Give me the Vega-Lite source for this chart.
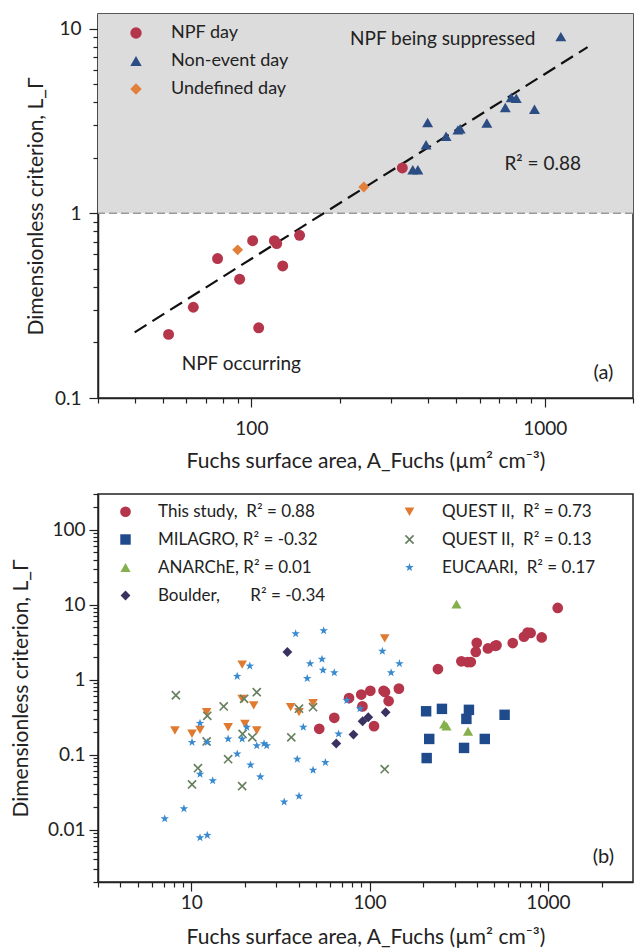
{
  "$schema": "https://vega.github.io/schema/vega-lite/v6.json",
  "padding": {"left": 9, "top": 13, "right": 0, "bottom": 0},
  "bounds": "flush",
  "spacing": 96,
  "resolve": {"scale": {"color": "independent", "shape": "independent", "size": "independent"}, "legend": {"color": "independent", "shape": "independent", "size": "independent"}},
  "config": {
    "font": "Lato",
    "view": {"stroke": "#222", "strokeWidth": 1.5},
    "axis": {"labelFont": "Lato", "labelFontSize": 19, "labelColor": "#222", "titleFont": "Lato", "titleFontSize": 21, "titleFontWeight": "normal", "titleColor": "#222", "domainColor": "#222", "domainWidth": 1.5, "tickColor": "#222", "tickWidth": 1.2, "grid": false},
    "legend": {"labelFont": "Lato", "labelColor": "#222"}
  },
  "datasets": {
    "top": [
      {"A": 52.2, "L": 0.221, "type": "NPF day"},
      {"A": 63.4, "L": 0.31, "type": "NPF day"},
      {"A": 76.7, "L": 0.569, "type": "NPF day"},
      {"A": 91.2, "L": 0.44, "type": "NPF day"},
      {"A": 101, "L": 0.711, "type": "NPF day"},
      {"A": 105.9, "L": 0.24, "type": "NPF day"},
      {"A": 119.8, "L": 0.711, "type": "NPF day"},
      {"A": 122, "L": 0.686, "type": "NPF day"},
      {"A": 127.9, "L": 0.519, "type": "NPF day"},
      {"A": 146, "L": 0.76, "type": "NPF day"},
      {"A": 327, "L": 1.76, "type": "NPF day"},
      {"A": 89.8, "L": 0.634, "type": "Undefined day"},
      {"A": 241.7, "L": 1.387, "type": "Undefined day"},
      {"A": 355, "L": 1.72, "type": "Non-event day"},
      {"A": 369.5, "L": 1.72, "type": "Non-event day"},
      {"A": 394, "L": 2.35, "type": "Non-event day"},
      {"A": 399, "L": 3.1, "type": "Non-event day"},
      {"A": 461, "L": 2.61, "type": "Non-event day"},
      {"A": 506, "L": 2.83, "type": "Non-event day"},
      {"A": 515, "L": 2.87, "type": "Non-event day"},
      {"A": 635, "L": 3.08, "type": "Non-event day"},
      {"A": 734, "L": 3.74, "type": "Non-event day"},
      {"A": 769, "L": 4.24, "type": "Non-event day"},
      {"A": 800, "L": 4.2, "type": "Non-event day"},
      {"A": 923, "L": 3.66, "type": "Non-event day"},
      {"A": 1135, "L": 9.05, "type": "Non-event day"}
    ],
    "fit": [
      {"A": 40, "L": 0.2268},
      {"A": 1400, "L": 7.94}
    ],
    "bottom": [
      {"A": 52.2, "L": 0.221, "s": "This study,\u00a0 R² = 0.88"},
      {"A": 63.4, "L": 0.31, "s": "This study,\u00a0 R² = 0.88"},
      {"A": 76.7, "L": 0.569, "s": "This study,\u00a0 R² = 0.88"},
      {"A": 91.2, "L": 0.44, "s": "This study,\u00a0 R² = 0.88"},
      {"A": 101, "L": 0.711, "s": "This study,\u00a0 R² = 0.88"},
      {"A": 105.9, "L": 0.24, "s": "This study,\u00a0 R² = 0.88"},
      {"A": 119.8, "L": 0.711, "s": "This study,\u00a0 R² = 0.88"},
      {"A": 122, "L": 0.686, "s": "This study,\u00a0 R² = 0.88"},
      {"A": 127.9, "L": 0.519, "s": "This study,\u00a0 R² = 0.88"},
      {"A": 146, "L": 0.76, "s": "This study,\u00a0 R² = 0.88"},
      {"A": 327, "L": 1.76, "s": "This study,\u00a0 R² = 0.88"},
      {"A": 89.8, "L": 0.634, "s": "This study,\u00a0 R² = 0.88"},
      {"A": 241.7, "L": 1.387, "s": "This study,\u00a0 R² = 0.88"},
      {"A": 355, "L": 1.72, "s": "This study,\u00a0 R² = 0.88"},
      {"A": 369.5, "L": 1.72, "s": "This study,\u00a0 R² = 0.88"},
      {"A": 394, "L": 2.35, "s": "This study,\u00a0 R² = 0.88"},
      {"A": 399, "L": 3.1, "s": "This study,\u00a0 R² = 0.88"},
      {"A": 461, "L": 2.61, "s": "This study,\u00a0 R² = 0.88"},
      {"A": 506, "L": 2.83, "s": "This study,\u00a0 R² = 0.88"},
      {"A": 515, "L": 2.87, "s": "This study,\u00a0 R² = 0.88"},
      {"A": 635, "L": 3.08, "s": "This study,\u00a0 R² = 0.88"},
      {"A": 734, "L": 3.74, "s": "This study,\u00a0 R² = 0.88"},
      {"A": 769, "L": 4.24, "s": "This study,\u00a0 R² = 0.88"},
      {"A": 800, "L": 4.2, "s": "This study,\u00a0 R² = 0.88"},
      {"A": 923, "L": 3.66, "s": "This study,\u00a0 R² = 0.88"},
      {"A": 1135, "L": 9.05, "s": "This study,\u00a0 R² = 0.88"},
      {"A": 207.5, "L": 0.379, "s": "MILAGRO, R² = -0.32"},
      {"A": 254.5, "L": 0.408, "s": "MILAGRO, R² = -0.32"},
      {"A": 360.6, "L": 0.396, "s": "MILAGRO, R² = -0.32"},
      {"A": 349, "L": 0.3, "s": "MILAGRO, R² = -0.32"},
      {"A": 571.6, "L": 0.34, "s": "MILAGRO, R² = -0.32"},
      {"A": 216, "L": 0.162, "s": "MILAGRO, R² = -0.32"},
      {"A": 442.6, "L": 0.162, "s": "MILAGRO, R² = -0.32"},
      {"A": 338.6, "L": 0.123, "s": "MILAGRO, R² = -0.32"},
      {"A": 209, "L": 0.09, "s": "MILAGRO, R² = -0.32"},
      {"A": 262, "L": 0.255, "s": "ANARChE, R² = 0.01"},
      {"A": 270, "L": 0.24, "s": "ANARChE, R² = 0.01"},
      {"A": 356.6, "L": 0.205, "s": "ANARChE, R² = 0.01"},
      {"A": 307, "L": 10.2, "s": "ANARChE, R² = 0.01"},
      {"A": 34.6, "L": 2.34, "s": "Boulder,\u00a0\u00a0\u00a0\u00a0\u00a0\u00a0 R² = -0.34"},
      {"A": 65, "L": 0.141, "s": "Boulder,\u00a0\u00a0\u00a0\u00a0\u00a0\u00a0 R² = -0.34"},
      {"A": 81.2, "L": 0.185, "s": "Boulder,\u00a0\u00a0\u00a0\u00a0\u00a0\u00a0 R² = -0.34"},
      {"A": 91.4, "L": 0.279, "s": "Boulder,\u00a0\u00a0\u00a0\u00a0\u00a0\u00a0 R² = -0.34"},
      {"A": 98.3, "L": 0.315, "s": "Boulder,\u00a0\u00a0\u00a0\u00a0\u00a0\u00a0 R² = -0.34"},
      {"A": 123, "L": 0.368, "s": "Boulder,\u00a0\u00a0\u00a0\u00a0\u00a0\u00a0 R² = -0.34"},
      {"A": 8.1, "L": 0.21, "s": "QUEST II,\u00a0 R² = 0.73"},
      {"A": 10.1, "L": 0.19, "s": "QUEST II,\u00a0 R² = 0.73"},
      {"A": 11.2, "L": 0.214, "s": "QUEST II,\u00a0 R² = 0.73"},
      {"A": 12.2, "L": 0.37, "s": "QUEST II,\u00a0 R² = 0.73"},
      {"A": 16.1, "L": 0.232, "s": "QUEST II,\u00a0 R² = 0.73"},
      {"A": 19.3, "L": 0.556, "s": "QUEST II,\u00a0 R² = 0.73"},
      {"A": 19.3, "L": 1.59, "s": "QUEST II,\u00a0 R² = 0.73"},
      {"A": 20, "L": 0.257, "s": "QUEST II,\u00a0 R² = 0.73"},
      {"A": 22.4, "L": 0.453, "s": "QUEST II,\u00a0 R² = 0.73"},
      {"A": 23.3, "L": 0.21, "s": "QUEST II,\u00a0 R² = 0.73"},
      {"A": 36.1, "L": 0.43, "s": "QUEST II,\u00a0 R² = 0.73"},
      {"A": 40.2, "L": 0.37, "s": "QUEST II,\u00a0 R² = 0.73"},
      {"A": 48.2, "L": 0.486, "s": "QUEST II,\u00a0 R² = 0.73"},
      {"A": 121.6, "L": 3.55, "s": "QUEST II,\u00a0 R² = 0.73"},
      {"A": 8.2, "L": 0.62, "s": "QUEST II,\u00a0 R² = 0.13"},
      {"A": 10.9, "L": 0.066, "s": "QUEST II,\u00a0 R² = 0.13"},
      {"A": 10.1, "L": 0.04, "s": "QUEST II,\u00a0 R² = 0.13"},
      {"A": 12.2, "L": 0.15, "s": "QUEST II,\u00a0 R² = 0.13"},
      {"A": 12.3, "L": 0.33, "s": "QUEST II,\u00a0 R² = 0.13"},
      {"A": 15.2, "L": 0.44, "s": "QUEST II,\u00a0 R² = 0.13"},
      {"A": 16.1, "L": 0.087, "s": "QUEST II,\u00a0 R² = 0.13"},
      {"A": 19.3, "L": 0.038, "s": "QUEST II,\u00a0 R² = 0.13"},
      {"A": 19.4, "L": 0.189, "s": "QUEST II,\u00a0 R² = 0.13"},
      {"A": 19.8, "L": 0.556, "s": "QUEST II,\u00a0 R² = 0.13"},
      {"A": 23.3, "L": 0.68, "s": "QUEST II,\u00a0 R² = 0.13"},
      {"A": 22, "L": 0.17, "s": "QUEST II,\u00a0 R² = 0.13"},
      {"A": 36.4, "L": 0.17, "s": "QUEST II,\u00a0 R² = 0.13"},
      {"A": 40.2, "L": 0.41, "s": "QUEST II,\u00a0 R² = 0.13"},
      {"A": 48.2, "L": 0.43, "s": "QUEST II,\u00a0 R² = 0.13"},
      {"A": 121.6, "L": 0.064, "s": "QUEST II,\u00a0 R² = 0.13"},
      {"A": 7.1, "L": 0.014, "s": "EUCAARI,\u00a0 R² = 0.17"},
      {"A": 9.1, "L": 0.019, "s": "EUCAARI,\u00a0 R² = 0.17"},
      {"A": 11.2, "L": 0.0078, "s": "EUCAARI,\u00a0 R² = 0.17"},
      {"A": 12.3, "L": 0.0084, "s": "EUCAARI,\u00a0 R² = 0.17"},
      {"A": 10.1, "L": 0.146, "s": "EUCAARI,\u00a0 R² = 0.17"},
      {"A": 11.2, "L": 0.262, "s": "EUCAARI,\u00a0 R² = 0.17"},
      {"A": 11.2, "L": 0.055, "s": "EUCAARI,\u00a0 R² = 0.17"},
      {"A": 13.2, "L": 0.045, "s": "EUCAARI,\u00a0 R² = 0.17"},
      {"A": 12.3, "L": 0.146, "s": "EUCAARI,\u00a0 R² = 0.17"},
      {"A": 16.1, "L": 0.162, "s": "EUCAARI,\u00a0 R² = 0.17"},
      {"A": 18.1, "L": 0.102, "s": "EUCAARI,\u00a0 R² = 0.17"},
      {"A": 19.3, "L": 0.162, "s": "EUCAARI,\u00a0 R² = 0.17"},
      {"A": 20.5, "L": 0.232, "s": "EUCAARI,\u00a0 R² = 0.17"},
      {"A": 21.5, "L": 0.073, "s": "EUCAARI,\u00a0 R² = 0.17"},
      {"A": 24.4, "L": 0.0506, "s": "EUCAARI,\u00a0 R² = 0.17"},
      {"A": 23.3, "L": 0.132, "s": "EUCAARI,\u00a0 R² = 0.17"},
      {"A": 25.6, "L": 0.14, "s": "EUCAARI,\u00a0 R² = 0.17"},
      {"A": 26.5, "L": 0.132, "s": "EUCAARI,\u00a0 R² = 0.17"},
      {"A": 33.2, "L": 0.0234, "s": "EUCAARI,\u00a0 R² = 0.17"},
      {"A": 40.2, "L": 0.028, "s": "EUCAARI,\u00a0 R² = 0.17"},
      {"A": 39.3, "L": 0.087, "s": "EUCAARI,\u00a0 R² = 0.17"},
      {"A": 42.5, "L": 0.232, "s": "EUCAARI,\u00a0 R² = 0.17"},
      {"A": 48.2, "L": 0.062, "s": "EUCAARI,\u00a0 R² = 0.17"},
      {"A": 56.5, "L": 0.0786, "s": "EUCAARI,\u00a0 R² = 0.17"},
      {"A": 67, "L": 0.189, "s": "EUCAARI,\u00a0 R² = 0.17"},
      {"A": 74.5, "L": 0.528, "s": "EUCAARI,\u00a0 R² = 0.17"},
      {"A": 88.4, "L": 0.41, "s": "EUCAARI,\u00a0 R² = 0.17"},
      {"A": 38.5, "L": 4.1, "s": "EUCAARI,\u00a0 R² = 0.17"},
      {"A": 55.3, "L": 4.5, "s": "EUCAARI,\u00a0 R² = 0.17"},
      {"A": 46.4, "L": 1.64, "s": "EUCAARI,\u00a0 R² = 0.17"},
      {"A": 54.1, "L": 1.88, "s": "EUCAARI,\u00a0 R² = 0.17"},
      {"A": 54.8, "L": 1.34, "s": "EUCAARI,\u00a0 R² = 0.17"},
      {"A": 63.4, "L": 1.24, "s": "EUCAARI,\u00a0 R² = 0.17"},
      {"A": 44.7, "L": 1.04, "s": "EUCAARI,\u00a0 R² = 0.17"},
      {"A": 118, "L": 2.4, "s": "EUCAARI,\u00a0 R² = 0.17"},
      {"A": 132, "L": 1.24, "s": "EUCAARI,\u00a0 R² = 0.17"},
      {"A": 147, "L": 1.64, "s": "EUCAARI,\u00a0 R² = 0.17"},
      {"A": 18.1, "L": 1.11, "s": "EUCAARI,\u00a0 R² = 0.17"},
      {"A": 21.3, "L": 1.52, "s": "EUCAARI,\u00a0 R² = 0.17"}
    ]
  },
  "vconcat": [
    {
      "width": 535,
      "height": 384,
      "layer": [
        {
          "data": {"values": [{}]},
          "mark": {"type": "rect", "color": "#dcdcdc"},
          "encoding": {
            "x": {
              "datum": 30, "type": "quantitative",
              "scale": {"type": "log", "domain": [30, 2000], "nice": false},
              "axis": {
                "title": "Fuchs surface area, A_Fuchs (µm² cm⁻³)",
                "values": [30, 40, 50, 60, 70, 80, 90, 100, 200, 300, 400, 500, 600, 700, 800, 900, 1000, 2000],
                "format": "~g",
                "labelExpr": "indexof([10, 100, 1000], datum.value) >= 0 ? datum.label : ''",
                "tickSize": {"condition": {"test": "indexof([10, 100, 1000], datum.value) >= 0", "value": 9}, "value": 5},
                "labelPadding": 12,
                "titlePadding": 12
              }
            },
            "x2": {"datum": 2000},
            "y": {
              "datum": 1, "type": "quantitative",
              "scale": {"type": "log", "domain": [0.1, 12], "nice": false},
              "axis": {
                "title": "Dimensionless criterion, L_Γ",
                "values": [0.1, 0.2, 0.3, 0.4, 0.5, 0.6, 0.7, 0.8, 0.9, 1, 2, 3, 4, 5, 6, 7, 8, 9, 10],
                "format": "~g",
                "labelExpr": "indexof([0.1, 1, 10], datum.value) >= 0 ? datum.label : ''",
                "tickSize": {"condition": {"test": "indexof([0.1, 1, 10], datum.value) >= 0", "value": 9}, "value": 5},
                "labelPadding": 8,
                "titlePadding": 8
              }
            },
            "y2": {"datum": 12}
          }
        },
        {
          "data": {"values": [{}]},
          "mark": {"type": "rule", "color": "#9a9a9a", "strokeDash": [8, 4], "strokeWidth": 1.6},
          "encoding": {
            "y": {"datum": 1, "type": "quantitative"}
          }
        },
        {
          "data": {"name": "fit"},
          "mark": {"type": "line", "color": "#111", "strokeDash": [14, 7], "strokeWidth": 2.2},
          "encoding": {
            "x": {"field": "A", "type": "quantitative"},
            "y": {"field": "L", "type": "quantitative"}
          }
        },
        {
          "data": {"name": "top"},
          "mark": {"type": "point", "filled": true, "opacity": 1},
          "encoding": {
            "x": {"field": "A", "type": "quantitative"},
            "y": {"field": "L", "type": "quantitative"},
            "color": {
              "field": "type", "type": "nominal",
              "scale": {"domain": ["NPF day", "Non-event day", "Undefined day"], "range": ["#b5364b", "#2c4d84", "#e27f39"]},
              "legend": {"orient": "none", "legendX": 29, "legendY": 10, "title": null, "labelFontSize": 18, "symbolSize": 130, "rowPadding": 10, "labelOffset": 26, "padding": 0}
            },
            "shape": {
              "field": "type", "type": "nominal",
              "scale": {"domain": ["NPF day", "Non-event day", "Undefined day"], "range": ["circle", "triangle-up", "diamond"]}
            },
            "size": {"value": 120}
          }
        },
        {
          "data": {"values": [{}]},
          "mark": {"type": "text", "fontSize": 19, "color": "#222", "font": "Lato"},
          "encoding": {"x": {"datum": 449, "type": "quantitative"}, "y": {"datum": 8.83, "type": "quantitative"}, "text": {"value": "NPF being suppressed"}}
        },
        {
          "data": {"values": [{}]},
          "mark": {"type": "text", "fontSize": 19, "color": "#222", "font": "Lato"},
          "encoding": {"x": {"datum": 984, "type": "quantitative"}, "y": {"datum": 1.84, "type": "quantitative"}, "text": {"value": "R² = 0.88"}}
        },
        {
          "data": {"values": [{}]},
          "mark": {"type": "text", "fontSize": 19, "color": "#222", "font": "Lato"},
          "encoding": {"x": {"datum": 92.4, "type": "quantitative"}, "y": {"datum": 0.153, "type": "quantitative"}, "text": {"value": "NPF occurring"}}
        },
        {
          "data": {"values": [{}]},
          "mark": {"type": "text", "fontSize": 20, "color": "#222", "font": "Lato"},
          "encoding": {"x": {"datum": 1585, "type": "quantitative"}, "y": {"datum": 0.136, "type": "quantitative"}, "text": {"value": "(a)"}}
        }
      ]
    },
    {
      "width": 535,
      "height": 388,
      "layer": [
        {
          "data": {"name": "bottom"},
          "mark": {"type": "point", "filled": true, "opacity": 1},
          "encoding": {
            "x": {
              "field": "A", "type": "quantitative",
              "scale": {"type": "log", "domain": [3, 3000], "nice": false},
              "axis": {
                "title": "Fuchs surface area, A_Fuchs (µm² cm⁻³)",
                "values": [3, 4, 5, 6, 7, 8, 9, 10, 20, 30, 40, 50, 60, 70, 80, 90, 100, 200, 300, 400, 500, 600, 700, 800, 900, 1000, 2000],
                "format": "~g",
                "labelExpr": "indexof([10, 100, 1000], datum.value) >= 0 ? datum.label : ''",
                "tickSize": {"condition": {"test": "indexof([10, 100, 1000], datum.value) >= 0", "value": 9}, "value": 5},
                "labelPadding": 2,
                "titlePadding": 14
              }
            },
            "y": {
              "field": "L", "type": "quantitative",
              "scale": {"type": "log", "domain": [0.002, 300], "nice": false},
              "axis": {
                "title": "Dimensionless criterion, L_Γ",
                "values": [0.002, 0.003, 0.004, 0.005, 0.006, 0.007, 0.008, 0.009, 0.01, 0.02, 0.03, 0.04, 0.05, 0.06, 0.07, 0.08, 0.09, 0.1, 0.2, 0.3, 0.4, 0.5, 0.6, 0.7, 0.8, 0.9, 1, 2, 3, 4, 5, 6, 7, 8, 9, 10, 20, 30, 40, 50, 60, 70, 80, 90, 100, 200, 300],
                "format": "~g",
                "labelExpr": "indexof([0.01, 0.1, 1, 10, 100], datum.value) >= 0 ? datum.label : ''",
                "tickSize": {"condition": {"test": "indexof([0.01, 0.1, 1, 10, 100], datum.value) >= 0", "value": 9}, "value": 5},
                "labelPadding": 4,
                "titlePadding": 16
              }
            },
            "color": {
              "field": "s", "type": "nominal",
              "scale": {
                "domain": ["This study,\u00a0 R² = 0.88", "MILAGRO, R² = -0.32", "ANARChE, R² = 0.01", "Boulder,\u00a0\u00a0\u00a0\u00a0\u00a0\u00a0 R² = -0.34", "QUEST II,\u00a0 R² = 0.73", "QUEST II,\u00a0 R² = 0.13", "EUCAARI,\u00a0 R² = 0.17"],
                "range": ["#b5364b", "#1f4a8c", "#86b04e", "#3b3160", "#e07a30", "#667f5f", "#3a8ad0"]
              },
              "legend": {"orient": "none", "legendX": 19, "legendY": 9, "title": null, "columns": 2, "columnPadding": 75, "labelFontSize": 17, "rowPadding": 10, "labelOffset": 24, "padding": 0, "labelLimit": 300}
            },
            "shape": {
              "field": "s", "type": "nominal",
              "scale": {
                "domain": ["This study,\u00a0 R² = 0.88", "MILAGRO, R² = -0.32", "ANARChE, R² = 0.01", "Boulder,\u00a0\u00a0\u00a0\u00a0\u00a0\u00a0 R² = -0.34", "QUEST II,\u00a0 R² = 0.73", "QUEST II,\u00a0 R² = 0.13", "EUCAARI,\u00a0 R² = 0.17"],
                "range": ["circle", "square", "triangle-up", "diamond", "triangle-down", "M-1,-0.75L-0.75,-1L0,-0.25L0.75,-1L1,-0.75L0.25,0L1,0.75L0.75,1L0,0.25L-0.75,1L-1,0.75L-0.25,0Z", "M0,-1L0.235,-0.324L0.951,-0.309L0.38,0.124L0.588,0.809L0,0.4L-0.588,0.809L-0.38,0.124L-0.951,-0.309L-0.235,-0.324Z"]
              }
            },
            "size": {
              "field": "s", "type": "nominal",
              "scale": {
                "domain": ["This study,\u00a0 R² = 0.88", "MILAGRO, R² = -0.32", "ANARChE, R² = 0.01", "Boulder,\u00a0\u00a0\u00a0\u00a0\u00a0\u00a0 R² = -0.34", "QUEST II,\u00a0 R² = 0.73", "QUEST II,\u00a0 R² = 0.13", "EUCAARI,\u00a0 R² = 0.17"],
                "range": [115, 80, 125, 110, 120, 110, 340]
              }
            }
          }
        },
        {
          "data": {"values": [{}]},
          "mark": {"type": "text", "fontSize": 20, "color": "#222", "font": "Lato"},
          "encoding": {"x": {"datum": 2047, "type": "quantitative"}, "y": {"datum": 0.00428, "type": "quantitative"}, "text": {"value": "(b)"}}
        }
      ]
    }
  ]
}
